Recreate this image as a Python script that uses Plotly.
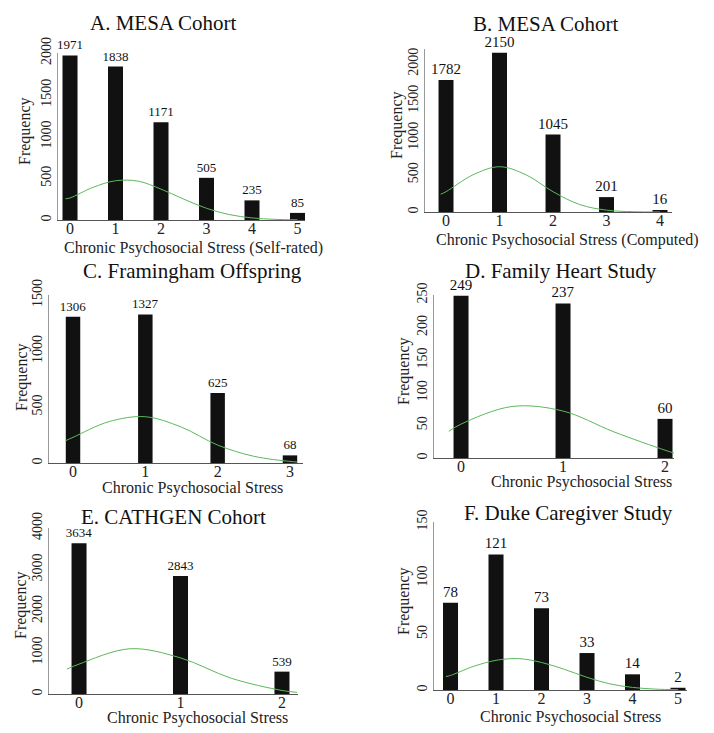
import plotly.graph_objects as go

W, H = 714, 733
FONT = "Liberation Serif"

# ---- data ----
titles = ["A. MESA Cohort", "B. MESA Cohort", "C. Framingham Offspring",
          "D. Family Heart Study", "E. CATHGEN Cohort", "F. Duke Caregiver Study"]
xtitles = ["Chronic Psychosocial Stress (Self-rated)", "Chronic Psychosocial Stress (Computed)",
           "Chronic Psychosocial Stress", "Chronic Psychosocial Stress",
           "Chronic Psychosocial Stress", "Chronic Psychosocial Stress"]

cats_A = [0, 1, 2, 3, 4, 5]
vals_A = [1971, 1838, 1171, 505, 235, 85]
cats_B = [0, 1, 2, 3, 4]
vals_B = [1782, 2150, 1045, 201, 16]
cats_C = [0, 1, 2, 3]
vals_C = [1306, 1327, 625, 68]
cats_D = [0, 1, 2]
vals_D = [249, 237, 60]
cats_E = [0, 1, 2]
vals_E = [3634, 2843, 539]
cats_F = [0, 1, 2, 3, 4, 5]
vals_F = [78, 121, 73, 33, 14, 2]

curve_x_A = [-0.1, 0, 0.5, 1, 1.5, 2, 2.5, 3, 3.5, 4, 4.5, 5]
curve_y_A = [255, 264, 390, 470, 465, 370, 250, 140, 65, 25, 8, 2]
curve_x_B = [-0.1, 0, 0.5, 1, 1.5, 2, 2.5, 3, 3.5, 4]
curve_y_B = [240, 274, 500, 611, 500, 274, 100, 25, 4, 1]
curve_x_C = [-0.1, 0, 0.5, 1, 1.5, 2, 2.5, 3, 3.1]
curve_y_C = [200, 229, 370, 413, 320, 160, 60, 14, 9]
curve_x_D = [-0.12, 0, 0.5, 1, 1.5, 2, 2.1]
curve_y_D = [41, 52, 79, 72, 40, 12, 7]
curve_x_E = [-0.12, 0, 0.5, 1, 1.5, 2, 2.15]
curve_y_E = [600, 720, 1090, 870, 380, 85, 40]
curve_x_F = [-0.1, 0, 0.5, 1, 1.5, 2, 2.5, 3, 3.5, 4, 4.5, 5]
curve_y_F = [12, 13, 21, 26.5, 28, 24.6, 18.5, 11.3, 5.5, 2.3, 0.8, 0.3]

yticks_A = [0, 500, 1000, 1500, 2000]
yticks_B = [0, 500, 1000, 1500, 2000]
yticks_C = [0, 500, 1000, 1500]
yticks_D = [0, 50, 100, 150, 200, 250]
yticks_E = [0, 1000, 2000, 3000, 4000]
yticks_F = [0, 50, 100, 150]

# ---- layout geometry (pixels) ----
panels = [
    dict(cats=cats_A, vals=vals_A, cx=curve_x_A, cy=curve_y_A, yt=yticks_A,
         xpx=(58, 305), xr=(-0.264, 5.165), ypx=(53, 220), yr=(0, 2000), bw=0.33, lf=13,
         tpos=(163, 23), xtpos=(193, 248), ftpos=(25, 131)),
    dict(cats=cats_B, vals=vals_B, cx=curve_x_B, cy=curve_y_B, yt=yticks_B,
         xpx=(425, 672), xr=(-0.393, 4.224), ypx=(49, 212), yr=(0, 2200), bw=0.28, lf=15,
         tpos=(545, 24), xtpos=(567, 240), ftpos=(397, 125)),
    dict(cats=cats_C, vals=vals_C, cx=curve_x_C, cy=curve_y_C, yt=yticks_C,
         xpx=(49, 303), xr=(-0.332, 3.18), ypx=(295, 463), yr=(0, 1500), bw=0.2, lf=13,
         tpos=(192, 271), xtpos=(192, 488), ftpos=(22, 377)),
    dict(cats=cats_D, vals=vals_D, cx=curve_x_D, cy=curve_y_D, yt=yticks_D,
         xpx=(434, 674), xr=(-0.265, 2.088), ypx=(295, 458), yr=(0, 250), bw=0.147, lf=15,
         tpos=(561, 271), xtpos=(581, 482), ftpos=(404, 371)),
    dict(cats=cats_E, vals=vals_E, cx=curve_x_E, cy=curve_y_E, yt=yticks_E,
         xpx=(49, 298), xr=(-0.296, 2.158), ypx=(528, 694), yr=(0, 4000), bw=0.148, lf=13,
         tpos=(173, 517), xtpos=(197, 718), ftpos=(21, 605)),
    dict(cats=cats_F, vals=vals_F, cx=curve_x_F, cy=curve_y_F, yt=yticks_F,
         xpx=(434, 687), xr=(-0.363, 5.198), ypx=(522, 690), yr=(0, 150), bw=0.33, lf=15,
         tpos=(568, 513), xtpos=(570, 717), ftpos=(404, 601)),
]


def px(x):
    return x / W


def py(y):
    return 1 - y / H


fig = go.Figure()
layout = dict(width=W, height=H, autosize=False,
              margin=dict(l=0, r=0, t=0, b=0, pad=0, autoexpand=False),
              paper_bgcolor="white", plot_bgcolor="white", showlegend=False,
              font=dict(family=FONT, color="#111"))
annotations = []

for i, p in enumerate(panels):
    n = "" if i == 0 else str(i + 1)
    xa, ya = "x" + n, "y" + n
    fig.add_trace(go.Bar(x=p["cats"], y=p["vals"], width=p["bw"], marker=dict(color="#111111", line=dict(width=0)),
                         text=[str(v) for v in p["vals"]], textposition="outside", constraintext="none",
                         cliponaxis=False, textfont=dict(family=FONT, size=p["lf"], color="#111"),
                         xaxis=xa, yaxis=ya))
    fig.add_trace(go.Scatter(x=p["cx"], y=p["cy"], mode="lines", line=dict(color="#5cb85c", width=1, shape="spline"),
                             xaxis=xa, yaxis=ya))
    layout["xaxis" + n] = dict(domain=[px(p["xpx"][0]), px(p["xpx"][1])], range=list(p["xr"]),
                               anchor=ya, tickvals=p["cats"], showgrid=False, zeroline=False,
                               showline=True, linecolor="#555", linewidth=1, ticks="",
                               ticklabelstandoff=-6, automargin=False,
                               tickfont=dict(family=FONT, size=16, color="#222"))
    layout["yaxis" + n] = dict(domain=[py(p["ypx"][1]), py(p["ypx"][0])], range=list(p["yr"]),
                               anchor=xa, tickvals=p["yt"], showgrid=False, zeroline=False,
                               showline=True, linecolor="#999", linewidth=1, ticks="",
                               automargin=False,
                               tickangle=-90, tickfont=dict(family=FONT, size=14, color="#222"))
    annotations.append(dict(text=titles[i], x=px(p["tpos"][0]), y=py(p["tpos"][1]), xref="paper", yref="paper",
                            showarrow=False, xanchor="center", yanchor="middle",
                            font=dict(family=FONT, size=21, color="#111")))
    annotations.append(dict(text=xtitles[i], x=px(p["xtpos"][0]), y=py(p["xtpos"][1]), xref="paper", yref="paper",
                            showarrow=False, xanchor="center", yanchor="middle",
                            font=dict(family=FONT, size=16, color="#222")))
    annotations.append(dict(text="Frequency", x=px(p["ftpos"][0]), y=py(p["ftpos"][1]), xref="paper", yref="paper",
                            showarrow=False, xanchor="center", yanchor="middle", textangle=-90,
                            font=dict(family=FONT, size=16, color="#222")))

layout["annotations"] = annotations
fig.update_layout(**layout)
fig.write_html("out.html", config={"displayModeBar": False},
               post_script="document.body.style.margin='0';")
